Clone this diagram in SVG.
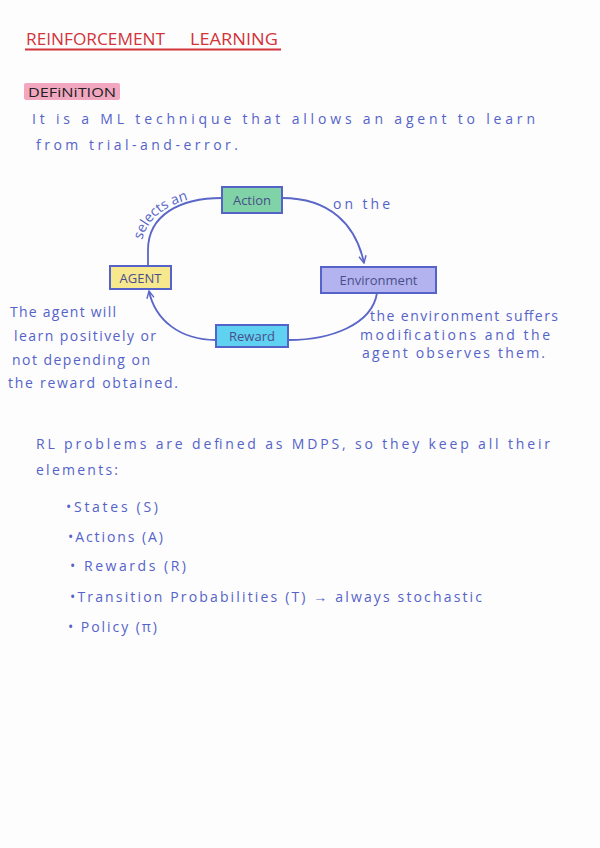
<svg xmlns="http://www.w3.org/2000/svg" width="600" height="848" viewBox="0 0 600 848">
<style>
.hw{font-family:"Open Sans","Liberation Sans",sans-serif;font-size:14px;fill:#5563c9;}
.lbl{font-family:"Open Sans","Liberation Sans",sans-serif;font-size:13px;fill:#4a4f8a;}
.box{stroke:#5563c9;stroke-width:2;}
.edge{fill:none;stroke:#5b66c9;stroke-width:1.8;}
.ttl{font-family:"Open Sans","Liberation Sans",sans-serif;font-size:17px;fill:#d2343a;}
</style>
<defs>
<marker id="arr" viewBox="0 0 10 10" refX="9" refY="5" markerWidth="9" markerHeight="9" orient="auto-start-reverse" markerUnits="userSpaceOnUse">
<path d="M1,1 L9,5 L1,9" fill="none" stroke="#5b66c9" stroke-width="1.6"/>
</marker>
<path id="selpath" d="M142,240 C148,218 166,204 196,198"/>
</defs>
<rect width="600" height="848" fill="#fdfdfe"/>
<g id="title">
<text class="ttl" x="26" y="45" textLength="139" lengthAdjust="spacingAndGlyphs">REINFORCEMENT</text>
<text class="ttl" x="190" y="45" textLength="88" lengthAdjust="spacingAndGlyphs">LEARNING</text>
<line x1="25" y1="49.5" x2="281" y2="49.5" stroke="#d2343a" stroke-width="2"/>
</g>
<g id="definition">
<rect x="24" y="83" width="96" height="17" rx="2" fill="#f2a7c0"/>
<text x="28" y="97" font-family="Open Sans, Liberation Sans, sans-serif" font-size="12.5" fill="#222" textLength="88" lengthAdjust="spacingAndGlyphs">DEFiNiTION</text>
<text class="hw" x="32" y="124" textLength="503" lengthAdjust="spacing">It is a ML technique that allows an agent to learn</text>
<text class="hw" x="36" y="150" textLength="202" lengthAdjust="spacing">from trial-and-error.</text>
</g>
<g id="connectors">
<path class="edge" d="M148,266 L148,250 C148,215 180,198 222,198"/>
<path class="edge" d="M282,198 C330,198 356,225 364,263" marker-end="url(#arr)"/>
<path class="edge" d="M377,293 C372,325 330,340 289,340"/>
<path class="edge" d="M216,340 C180,340 155,320 149,291" marker-end="url(#arr)"/>
<text class="hw" font-size="12"><textPath href="#selpath">selects an</textPath></text>
<text class="hw" font-size="13" x="333" y="209" textLength="57" lengthAdjust="spacing">on the</text>
</g>
<g id="node-action">
<rect class="box" x="222" y="187" width="60" height="26" fill="#7fd3a6"/>
<text class="lbl" x="252" y="205" text-anchor="middle">Action</text>
</g>
<g id="node-environment">
<rect class="box" x="321" y="267" width="115" height="26" fill="#b3b3ef"/>
<text class="lbl" x="378.5" y="285" text-anchor="middle">Environment</text>
</g>
<g id="node-agent">
<rect class="box" x="110" y="266" width="61" height="23" fill="#f7e88e"/>
<text class="lbl" x="140.5" y="283" text-anchor="middle">AGENT</text>
</g>
<g id="node-reward">
<rect class="box" x="216" y="325" width="72" height="22" fill="#5fd2f2"/>
<text class="lbl" x="252" y="341" text-anchor="middle">Reward</text>
</g>
<g id="note-left">
<text class="hw" x="10" y="317" textLength="106" lengthAdjust="spacing">The agent will</text>
<text class="hw" x="14" y="341" textLength="142" lengthAdjust="spacing">learn positively or</text>
<text class="hw" x="12" y="365" textLength="138" lengthAdjust="spacing">not depending on</text>
<text class="hw" x="8" y="388" textLength="170" lengthAdjust="spacing">the reward obtained.</text>
</g>
<g id="note-right">
<text class="hw" x="370" y="321" textLength="188" lengthAdjust="spacing">the environment suffers</text>
<text class="hw" x="360" y="340" textLength="190" lengthAdjust="spacing">modifications and the</text>
<text class="hw" x="362" y="358" textLength="183" lengthAdjust="spacing">agent observes them.</text>
</g>
<g id="mdp">
<text class="hw" x="36" y="449" textLength="514" lengthAdjust="spacing">RL problems are defined as MDPS, so they keep all their</text>
<text class="hw" x="36" y="475" textLength="82" lengthAdjust="spacing">elements:</text>
<text class="hw" x="66" y="512" textLength="92" lengthAdjust="spacing">•States (S)</text>
<text class="hw" x="68" y="542" textLength="95" lengthAdjust="spacing">•Actions (A)</text>
<text class="hw" x="70" y="571" textLength="116" lengthAdjust="spacing">• Rewards (R)</text>
<text class="hw" x="70" y="602" textLength="412" lengthAdjust="spacing">•Transition Probabilities (T) → always stochastic</text>
<text class="hw" x="68" y="632" textLength="89" lengthAdjust="spacing">• Policy (π)</text>
</g>
</svg>
